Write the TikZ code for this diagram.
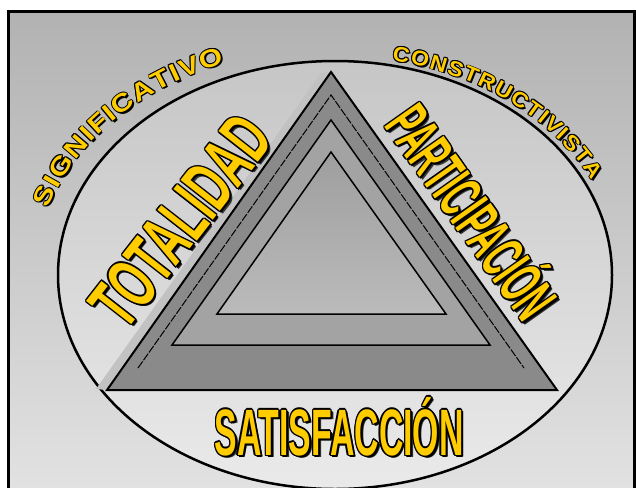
\documentclass[tikz,border=0pt]{standalone}
\usepackage{fontspec}
\usetikzlibrary{decorations.text,calc}
\newfontfamily\fTotF{Liberation Sans}[FakeStretch=0.59]
\newfontfamily\fParF{Liberation Sans}[FakeStretch=0.50]
\newfontfamily\fSatF{Liberation Sans}[FakeStretch=0.515]
\newfontfamily\fSigF{Liberation Sans}[FakeStretch=1.2]
\newfontfamily\fConF{Liberation Sans}[FakeStretch=1.1]
\newcommand\fTot{\fTotF\bfseries\fontsize{72.6}{80}\selectfont}
\newcommand\fPar{\fParF\bfseries\fontsize{62.8}{70}\selectfont}
\newcommand\fSat{\fSatF\bfseries\fontsize{65.6}{72}\selectfont}
\newcommand\fSig{\fSigF\bfseries\fontsize{25}{30}\selectfont}
\newcommand\fCon{\fConF\bfseries\fontsize{21}{25}\selectfont}
\definecolor{yelT}{HTML}{FFCC00}
\definecolor{bgTop}{HTML}{B2B2B2}
\definecolor{bgBot}{HTML}{E2E2E2}
\definecolor{elTop}{HTML}{C6C6C6}
\definecolor{elBot}{HTML}{EAEAEA}
\definecolor{triOut}{HTML}{8A8A8A}
\definecolor{triMid}{HTML}{A3A3A3}
\definecolor{triInTop}{HTML}{9E9E9E}
\definecolor{triInBot}{HTML}{BBBBBB}
\definecolor{bevel}{HTML}{C2C2C2}
\tikzset{bigtxt/.style={inner sep=0pt, anchor=base}}
% #1 name, #2 coordinate, #3 rotation, #4 font, #5 text
\newcommand\yeltext[5]{%
  \node[bigtxt, rotate=#3, text=black!80] (#1s) at ($(#2)+(2.6,2.6)$) {#4#5};
  \foreach \ox/\oy [count=\k] in {1.4/0,-1.4/0,0/1.4,0/-1.4,1/1,-1/1,1/-1,-1/-1,2/1.4,1.4/2}{
    \node[bigtxt, rotate=#3, text=black] (#1o\k) at ($(#2)+(\ox,\oy)$) {#4#5};}
  \node[bigtxt, rotate=#3, text=yelT] (#1) at (#2) {#4#5};
}
% #1 font, #2 text, #3 path
\newcommand\curvtext[3]{%
  \foreach \ox/\oy in {1.6/1.6,0.9/0,-0.9/0,0/0.9,0/-0.9,0.7/0.7,-0.7/0.7,0.7/-0.7,-0.7/-0.7}{
    \path[shift={(\ox,\oy)}, decorate, decoration={text along path, text={|#1|#2}, text align=fit to path, text color=black}] #3;}
  \path[decorate, decoration={text along path, text={|#1|#2}, text align=fit to path, text color=yelT}] #3;
}
\begin{document}
\begin{tikzpicture}[x=1pt,y=-1pt]
\useasboundingbox (0,0) rectangle (636,487);
\clip (0,0) rectangle (636,487);
\fill[white] (0,0) rectangle (636,487);
% background
\fill[top color=bgTop,bottom color=bgBot] (7,11) rectangle (640,490);
% ellipse
\draw[line width=2.5pt, top color=elTop, bottom color=elBot] (335,275) ellipse [x radius=277pt, y radius=214pt];
% triangles
\fill[triOut] (331,72) -- (107,390) -- (557,390) -- cycle;
\fill[bevel] (107,390) -- (331,72) -- (321,73) -- (96,389) -- cycle;
\draw[line width=2pt, line join=miter] (331,72) -- (107,390) -- (557,390) -- cycle;
\draw[line width=1pt, dash pattern=on 8pt off 1.5pt] (138,368) -- (331,95) -- (524,368);
\filldraw[fill=triMid, line width=1.5pt] (331,120) -- (172,345) -- (490,345) -- cycle;
\draw[line width=1.5pt, top color=triInTop, bottom color=triInBot] (331,152) -- (217,314) -- (446,314) -- cycle;
% curved texts
\curvtext{\fSig}{SIGNIFICATIVO}{plot[domain=0:1, samples=80, variable=\t] ({335+300*cos(163-51.5*\t)},{275-228*sin(163-51.5*\t)})}
\curvtext{\fCon}{CONSTRUCTIVISTA}{plot[domain=0:1, samples=80, variable=\t] ({335+285*cos(78.5-53*\t)},{275-219*sin(78.5-53*\t)})}
% straight texts
\coordinate (totc) at (200.6,236.4);
\coordinate (parc) at (453.7,225.1);
\coordinate (satc) at (339,455);
\yeltext{tot}{totc}{52}{\fTot}{TOTALIDAD}
\yeltext{par}{parc}{-54.8}{\fPar}{PARTICIPACIÓN}
\yeltext{sat}{satc}{0}{\fSat}{SATISFACCIÓN}
% frame
\draw[line width=3pt] (8.5,12) rectangle (634.5,500);
\end{tikzpicture}
\end{document}
